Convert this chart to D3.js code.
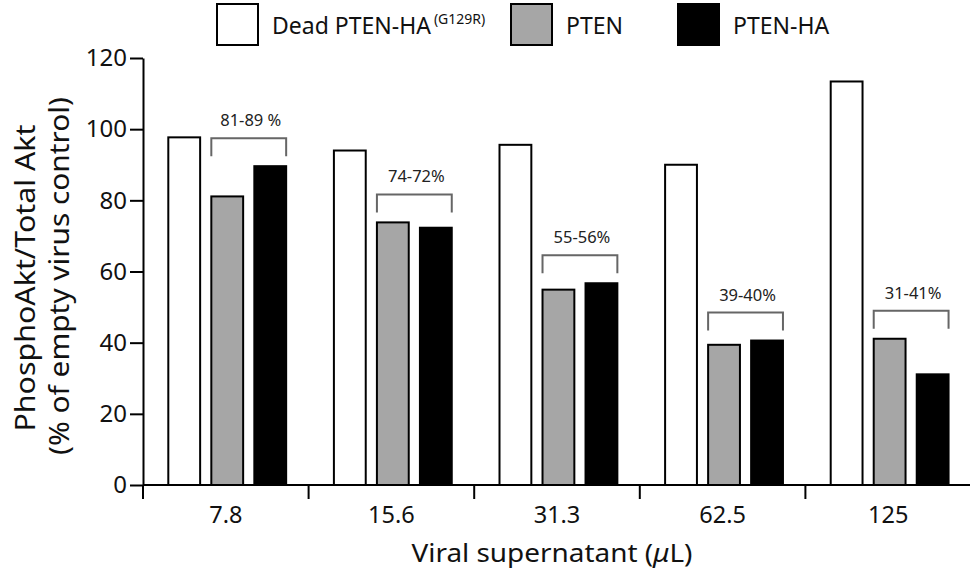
<!DOCTYPE html>
<html>
<head>
<meta charset="utf-8">
<title>PhosphoAkt / Total Akt</title>
<style>
  body { margin: 0; background: #fff; }
  text { font-family: "Noto Sans", "DejaVu Sans", sans-serif; fill: #111; }
</style>
</head>
<body>
<div id="container"></div>
<script src="https://d3js.org/d3.v7.min.js"></script>
<script>
// Data
const doses = ["7.8", "15.6", "31.3", "62.5", "125"];
const seriesNames = ["dead", "pten", "ptenHa"];
const deadValues = [97.7, 94.0, 95.6, 90.0, 113.4];
const ptenValues = [81.1, 73.8, 54.9, 39.4, 41.1];
const ptenHaValues = [89.6, 72.3, 56.7, 40.6, 31.1];
const bracketLabels = ["81-89 %", "74-72%", "55-56%", "39-40%", "31-41%"];
const yTicks = [0, 20, 40, 60, 80, 100, 120];

const fills = { dead: "#ffffff", pten: "#a6a6a6", ptenHa: "#000000" };

const rows = doses.map((d, i) => ({
    dose: d,
    dead: deadValues[i],
    pten: ptenValues[i],
    ptenHa: ptenHaValues[i],
    label: bracketLabels[i]
}));

// Chart dimensions
const width = 970;
const height = 575;
const marginLeft = 143;
const marginRight = -1;
const marginTop = 58;
const axisY = 485;

const svg = d3.create("svg")
    .attr("width", width)
    .attr("height", height);

// Scales
const x0 = d3.scaleBand()
    .domain(doses)
    .range([marginLeft, width - marginRight])
    .padding(0);

const x1 = d3.scaleBand()
    .domain(seriesNames)
    .range([0, x0.bandwidth()])
    .paddingInner(0.26)
    .paddingOuter(0.555)
    .align(0.53);

const y = d3.scaleLinear()
    .domain([0, 120])
    .range([axisY, marginTop]);

// Bars
const groups = svg.append("g")
    .selectAll("g")
    .data(rows)
    .join("g")
    .attr("transform", d => `translate(${x0(d.dose)},0)`);

groups.selectAll("rect")
    .data(d => seriesNames.map(k => ({ key: k, value: d[k] })))
    .join("rect")
    .attr("x", d => x1(d.key))
    .attr("y", d => y(d.value))
    .attr("width", x1.bandwidth())
    .attr("height", d => y(0) - y(d.value))
    .attr("fill", d => fills[d.key])
    .attr("stroke", "#000")
    .attr("stroke-width", 2);

// Brackets over PTEN / PTEN-HA pairs
const bracket = groups.append("g")
    .attr("class", "bracket");

bracket.append("path")
    .attr("fill", "none")
    .attr("stroke", "#666")
    .attr("stroke-width", 2)
    .attr("d", d => {
        const top = y(Math.max(d.pten, d.ptenHa)) - 28;
        const x1a = x1("pten");
        const x1b = x1("ptenHa") + x1.bandwidth();
        return `M${x1a},${top + 18}V${top}H${x1b}V${top + 18}`;
    });

bracket.append("text")
    .attr("x", (x1("pten") + x1("ptenHa") + x1.bandwidth()) / 2 + 2)
    .attr("y", d => y(Math.max(d.pten, d.ptenHa)) - 40)
    .attr("text-anchor", "middle")
    .attr("font-size", 16.5)
    .style("fill", "#222")
    .text(d => d.label);

// Y axis
const yAxis = svg.append("g")
    .attr("transform", `translate(${marginLeft},0)`)
    .call(d3.axisLeft(y).tickValues(yTicks).tickSize(13).tickPadding(3).tickSizeOuter(0));
yAxis.select(".domain").attr("stroke-width", 2);
yAxis.selectAll(".tick line").attr("stroke-width", 2);
yAxis.selectAll(".tick text")
    .attr("font-size", 24)
    .attr("font-family", "\"Noto Sans\", sans-serif")
    .attr("fill", "#111");

// X axis: line, ticks at group boundaries, labels at group centres
svg.append("line")
    .attr("x1", marginLeft)
    .attr("x2", width)
    .attr("y1", axisY)
    .attr("y2", axisY)
    .attr("stroke", "#000")
    .attr("stroke-width", 2);

svg.append("g")
    .selectAll("line")
    .data(doses)
    .join("line")
    .attr("x1", d => x0(d))
    .attr("x2", d => x0(d))
    .attr("y1", axisY)
    .attr("y2", axisY + 14)
    .attr("stroke", "#000")
    .attr("stroke-width", 2);

svg.append("g")
    .selectAll("text")
    .data(doses)
    .join("text")
    .attr("x", d => x0(d) + x0.bandwidth() / 2)
    .attr("y", axisY + 38)
    .attr("text-anchor", "middle")
    .attr("font-size", 23.5)
    .text(d => d);

// Axis titles
const xTitle = svg.append("text")
    .attr("x", 552)
    .attr("y", 562)
    .attr("text-anchor", "middle")
    .attr("font-size", 25)
    .attr("textLength", 281)
    .attr("lengthAdjust", "spacingAndGlyphs");
xTitle.append("tspan").text("Viral supernatant (");
xTitle.append("tspan").attr("font-style", "italic").text("\u03BC");
xTitle.append("tspan").text("L)");

svg.append("text")
    .attr("transform", "translate(35,278) rotate(-90)")
    .attr("text-anchor", "middle")
    .attr("font-size", 27)
    .attr("textLength", 307)
    .attr("lengthAdjust", "spacingAndGlyphs")
    .text("PhosphoAkt/Total Akt");

svg.append("text")
    .attr("transform", "translate(69,276) rotate(-90)")
    .attr("text-anchor", "middle")
    .attr("font-size", 27)
    .attr("textLength", 358)
    .attr("lengthAdjust", "spacingAndGlyphs")
    .text("(% of empty virus control)");

// Legend
const legendItems = [
    { key: "dead", x: 217, label: "Dead PTEN-HA", sup: "(G129R)" },
    { key: "pten", x: 511, label: "PTEN" },
    { key: "ptenHa", x: 678, label: "PTEN-HA" }
];

const legend = svg.append("g")
    .selectAll("g")
    .data(legendItems)
    .join("g")
    .attr("transform", d => `translate(${d.x},4)`);

legend.append("rect")
    .attr("width", 41)
    .attr("height", 41)
    .attr("fill", d => fills[d.key])
    .attr("stroke", "#000")
    .attr("stroke-width", 2);

const legendText = legend.append("text")
    .attr("x", 55)
    .attr("y", 30)
    .attr("font-size", 23);

legendText.append("tspan")
    .text(d => d.label);

legendText.filter(d => d.sup)
    .append("tspan")
    .attr("dx", 3)
    .attr("dy", -10)
    .attr("font-size", 14)
    .text(d => d.sup);

container.append(svg.node());
</script>
</body>
</html>
